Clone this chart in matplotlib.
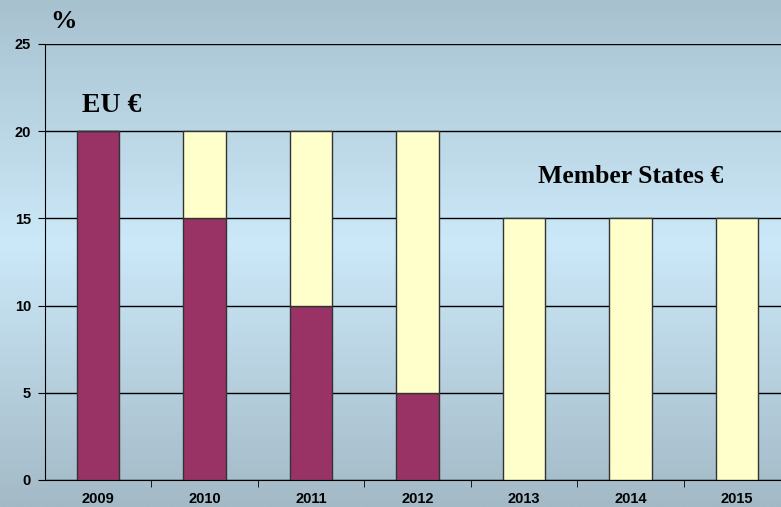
import numpy as np
import matplotlib.pyplot as plt
from matplotlib.colors import LinearSegmentedColormap

# data
years = ['2009', '2010', '2011', '2012', '2013', '2014', '2015']
eu_share = [20, 15, 10, 5, 0, 0, 0]
ms_share = [0, 5, 10, 15, 15, 15, 15]
yticks = [0, 5, 10, 15, 20, 25]

fig = plt.figure(figsize=(7.81, 5.07), dpi=100)

# background gradient (greyish blue at top/bottom, light blue in the middle)
bg = fig.add_axes([0, 0, 1, 1], zorder=-1)
cmap = LinearSegmentedColormap.from_list('bg', [(0.0, '#a7c1cf'), (0.48, '#cce9f9'),
                                                (1.0, '#a3b9c6')])
grad = np.linspace(0, 1, 256).reshape(-1, 1)
bg.imshow(grad, aspect='auto', cmap=cmap, extent=[0, 1, 0, 1], origin='upper')
bg.axis('off')

ax = fig.add_axes([0.0576, 0.0533, 0.954, 0.86])
ax.set_facecolor('none')

x = np.arange(len(years))
w = 0.4
ax.bar(x, eu_share, w, color='#993366', edgecolor='#333333', linewidth=1, zorder=3)
ax.bar(x, ms_share, w, bottom=eu_share, color='#ffffcc', edgecolor='#333333',
       linewidth=1, zorder=3)

ax.set_xlim(-0.5, len(years) - 0.5)
ax.set_ylim(0, 25)
ax.set_yticks(yticks)
ax.set_yticklabels([str(t) for t in yticks], fontsize=10.5, fontweight='bold',
                   family='Liberation Sans')
ax.yaxis.grid(True, color='black', linewidth=1, zorder=1)
ax.set_axisbelow(True)

ax.set_xticks(x)
ax.set_xticklabels(years, fontsize=10.5, fontweight='bold', family='Liberation Sans')
ax.set_xticks(np.arange(0.5, len(years) - 0.5, 1), minor=True)
ax.tick_params(axis='x', which='major', length=0, pad=9)
ax.tick_params(axis='x', which='minor', length=5, direction='out', color='black')
ax.tick_params(axis='y', length=5, direction='out', pad=5, color='black')

ax.spines['right'].set_visible(False)
ax.spines['top'].set_visible(False)
ax.spines['left'].set_color('black')
ax.spines['bottom'].set_color('black')

fig.text(63.5 / 781, 1 - 22 / 507, '%', fontsize=19, fontweight='bold',
         family='Liberation Serif', ha='center', va='center')
ax.text(0.13, 21.45, 'EU €', fontsize=20, fontweight='bold', family='Liberation Serif',
        ha='center', va='center')
ax.text(5.0, 17.4, 'Member States €', fontsize=18.5, fontweight='bold',
        family='Liberation Serif', ha='center', va='center')

fig.savefig('out.png', dpi=100)
